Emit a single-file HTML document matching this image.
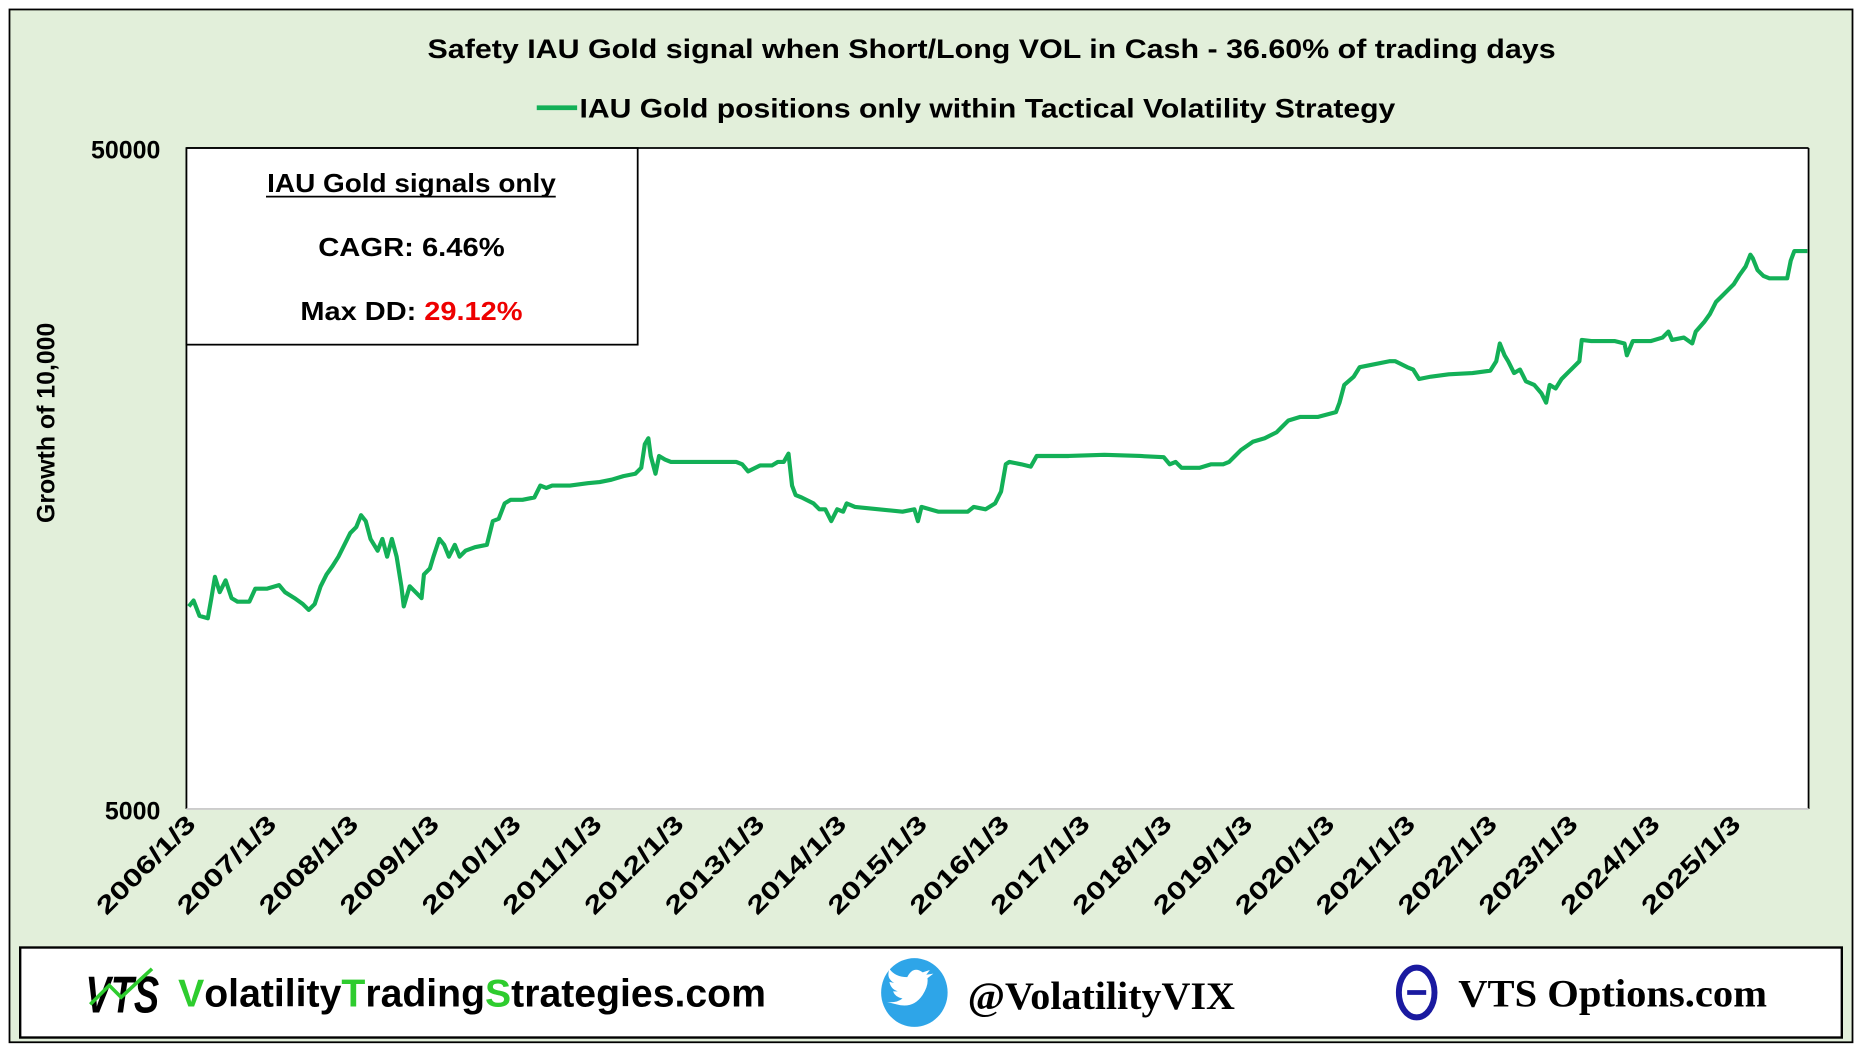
<!DOCTYPE html>
<html><head><meta charset="utf-8"><style>
html,body{margin:0;padding:0;background:#fff;}
svg{display:block;}
text{font-family:"Liberation Sans",Arial,sans-serif;}
</style></head><body>
<svg width="1862" height="1047" viewBox="0 0 1568 884" preserveAspectRatio="none">
<rect x="0" y="0" width="1568" height="884" fill="#fff"/>
<rect x="8" y="8" width="1552" height="872" fill="#e2efda" stroke="#000" stroke-width="1.5"/>
<text x="360" y="49" font-size="23" font-weight="bold" textLength="950" lengthAdjust="spacingAndGlyphs">Safety IAU Gold signal when Short/Long VOL in Cash  -  36.60% of trading days</text>
<line x1="452" y1="91" x2="486" y2="91" stroke="#13b057" stroke-width="4"/>
<text x="488" y="99" font-size="23" font-weight="bold" textLength="687" lengthAdjust="spacingAndGlyphs">IAU Gold positions only within Tactical Volatility Strategy</text>
<rect x="157" y="125" width="1366" height="558" fill="#fff"/>
<line x1="157" y1="125" x2="1523" y2="125" stroke="#000" stroke-width="1.5"/>
<line x1="1523" y1="125" x2="1523" y2="683" stroke="#000" stroke-width="1.5"/>
<line x1="157" y1="125" x2="157" y2="683" stroke="#000" stroke-width="1.5"/>
<line x1="157" y1="683" x2="1523" y2="683" stroke="#ccc" stroke-width="1.5"/>
<text x="135" y="134" font-size="21" font-weight="bold" text-anchor="end">50000</text>
<text x="135" y="692" font-size="21" font-weight="bold" text-anchor="end">5000</text>
<text transform="translate(46,357) rotate(-90)" font-size="21" font-weight="bold" text-anchor="middle">Growth of 10,000</text>
<g font-size="21" font-weight="bold" text-anchor="end">
<text transform="translate(166,697) rotate(-45)" textLength="108" lengthAdjust="spacingAndGlyphs">2006/1/3</text>
<text transform="translate(234,697) rotate(-45)" textLength="108" lengthAdjust="spacingAndGlyphs">2007/1/3</text>
<text transform="translate(303,697) rotate(-45)" textLength="108" lengthAdjust="spacingAndGlyphs">2008/1/3</text>
<text transform="translate(371,697) rotate(-45)" textLength="108" lengthAdjust="spacingAndGlyphs">2009/1/3</text>
<text transform="translate(440,697) rotate(-45)" textLength="108" lengthAdjust="spacingAndGlyphs">2010/1/3</text>
<text transform="translate(508,697) rotate(-45)" textLength="108" lengthAdjust="spacingAndGlyphs">2011/1/3</text>
<text transform="translate(577,697) rotate(-45)" textLength="108" lengthAdjust="spacingAndGlyphs">2012/1/3</text>
<text transform="translate(645,697) rotate(-45)" textLength="108" lengthAdjust="spacingAndGlyphs">2013/1/3</text>
<text transform="translate(714,697) rotate(-45)" textLength="108" lengthAdjust="spacingAndGlyphs">2014/1/3</text>
<text transform="translate(782,697) rotate(-45)" textLength="108" lengthAdjust="spacingAndGlyphs">2015/1/3</text>
<text transform="translate(851,697) rotate(-45)" textLength="108" lengthAdjust="spacingAndGlyphs">2016/1/3</text>
<text transform="translate(919,697) rotate(-45)" textLength="108" lengthAdjust="spacingAndGlyphs">2017/1/3</text>
<text transform="translate(988,697) rotate(-45)" textLength="108" lengthAdjust="spacingAndGlyphs">2018/1/3</text>
<text transform="translate(1056,697) rotate(-45)" textLength="108" lengthAdjust="spacingAndGlyphs">2019/1/3</text>
<text transform="translate(1125,697) rotate(-45)" textLength="108" lengthAdjust="spacingAndGlyphs">2020/1/3</text>
<text transform="translate(1193,697) rotate(-45)" textLength="108" lengthAdjust="spacingAndGlyphs">2021/1/3</text>
<text transform="translate(1262,697) rotate(-45)" textLength="108" lengthAdjust="spacingAndGlyphs">2022/1/3</text>
<text transform="translate(1330,697) rotate(-45)" textLength="108" lengthAdjust="spacingAndGlyphs">2023/1/3</text>
<text transform="translate(1399,697) rotate(-45)" textLength="108" lengthAdjust="spacingAndGlyphs">2024/1/3</text>
<text transform="translate(1467,697) rotate(-45)" textLength="108" lengthAdjust="spacingAndGlyphs">2025/1/3</text>
</g>
<polyline fill="none" stroke="#13b057" stroke-width="3.5" stroke-linejoin="round" points="159,512 163,507 168,520 175,522 178,505 181,487 185,500 190,490 195,505 200,508 210,508 215,497 225,497 235,494 240,500 248,505 255,510 260,515 265,510 270,495 275,485 280,478 285,470 290,460 295,450 300,445 304,435 308,440 312,455 318,465 322,455 326,470 330,455 334,470 338,495 340,512 345,495 350,500 355,505 357,485 362,480 365,470 370,455 374,460 378,470 383,460 387,470 392,465 400,462 410,460 415,440 420,438 425,425 430,422 440,422 450,420 455,410 460,412 465,410 480,410 495,408 505,407 515,405 525,402 535,400 540,395 543,375 546,370 548,385 552,400 555,385 560,388 565,390 580,390 600,390 620,390 625,392 630,398 640,393 650,393 655,390 660,390 664,383 667,410 670,418 675,420 685,425 690,430 695,430 700,440 705,430 710,432 713,425 720,428 740,430 760,432 770,430 773,440 776,428 790,432 810,432 815,432 820,428 830,430 838,425 843,415 847,392 850,390 860,392 868,394 873,385 880,385 900,385 930,384 960,385 980,386 985,392 990,390 995,395 1010,395 1020,392 1030,392 1035,390 1040,385 1045,380 1055,373 1065,370 1075,365 1080,360 1085,355 1095,352 1110,352 1125,348 1128,340 1132,325 1140,318 1145,310 1155,308 1170,305 1175,305 1185,310 1190,312 1195,320 1205,318 1220,316 1240,315 1255,313 1260,305 1263,290 1267,300 1270,305 1275,315 1280,312 1285,322 1292,325 1298,332 1302,340 1305,325 1310,328 1315,320 1320,315 1325,310 1330,305 1332,287 1340,288 1360,288 1368,290 1370,300 1375,288 1390,288 1400,285 1405,280 1408,287 1418,285 1425,290 1428,280 1435,272 1440,265 1445,255 1450,250 1455,245 1460,240 1465,232 1470,225 1474,215 1476,218 1480,228 1485,233 1490,235 1505,235 1508,220 1511,212 1515,212 1522,212"/>
<rect x="157" y="125" width="380" height="166" fill="#fff" stroke="#000" stroke-width="1.5"/>
<text x="225" y="162" font-size="22" font-weight="bold" textLength="243" lengthAdjust="spacingAndGlyphs">IAU Gold signals only</text>
<line x1="224" y1="166" x2="468" y2="166" stroke="#000" stroke-width="1.5"/>
<text x="268" y="216" font-size="22" font-weight="bold" textLength="157" lengthAdjust="spacingAndGlyphs">CAGR:  6.46%</text>
<text x="253" y="270" font-size="22" font-weight="bold" textLength="187" lengthAdjust="spacingAndGlyphs">Max DD:  <tspan fill="#ee0000">29.12%</tspan></text>
<rect x="17" y="800" width="1534" height="76" fill="#fff" stroke="#000" stroke-width="2"/>
<text x="72" y="855" font-size="44" font-weight="bold" font-style="italic" textLength="62" lengthAdjust="spacingAndGlyphs">VTS</text>
<polyline points="76,848 92,832 102,842 128,818" fill="none" stroke="#2ecc2e" stroke-width="3"/>
<text x="150" y="850" font-size="33" font-weight="bold" textLength="495" lengthAdjust="spacingAndGlyphs"><tspan fill="#2ecc2e">V</tspan>olatility<tspan fill="#2ecc2e">T</tspan>rading<tspan fill="#2ecc2e">S</tspan>trategies.com</text>
<ellipse cx="770" cy="838" rx="28" ry="29" fill="#2ea5e8"/>
<path d="M755,848 q14,4 22,-8 q5,-8 4,-14 l5,-4 l-6,1 l3,-4 l-6,2 q-8,-6 -13,4 q-10,0 -15,-7 q-3,8 4,12 l-4,-1 q1,6 7,8 l-4,0 q2,5 8,6 q-5,4 -13,3 z" fill="#fff"/>
<text x="815" y="852" font-size="33" font-weight="bold" style="font-family:'Liberation Serif',serif" textLength="225" lengthAdjust="spacingAndGlyphs">@VolatilityVIX</text>
<ellipse cx="1193" cy="838" rx="15" ry="21" fill="none" stroke="#1a1aa0" stroke-width="5"/>
<line x1="1185" y1="838" x2="1201" y2="838" stroke="#1a1aa0" stroke-width="4"/>
<text x="1228" y="850" font-size="33" font-weight="bold" style="font-family:'Liberation Serif',serif" textLength="260" lengthAdjust="spacingAndGlyphs">VTS Options.com</text>
</svg>
</body></html>
